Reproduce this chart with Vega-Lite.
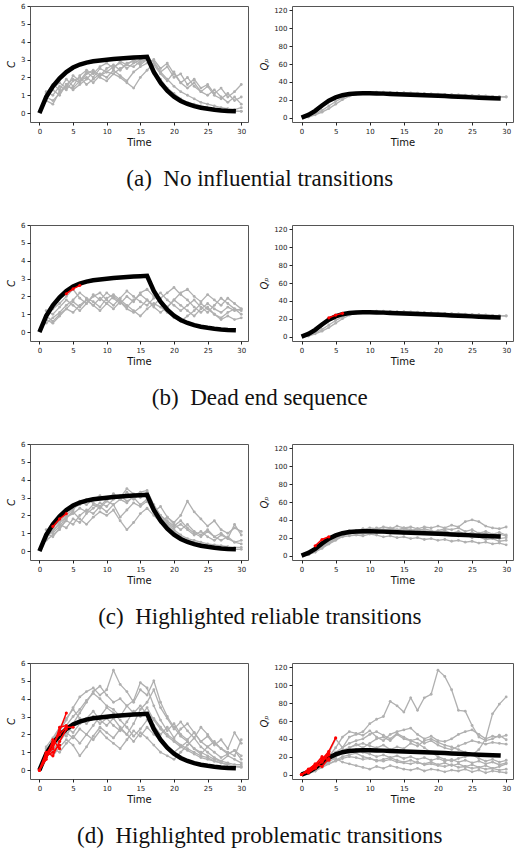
{
"$schema": "https://vega.github.io/schema/vega-lite/v6.json",
"padding": {"top": 1, "left": 6, "right": 0, "bottom": 0},
"background": "white",
"datasets": {
"M": [{"t":0,"C":0,"Q":0},{"t":1,"C":0.9,"Q":3},{"t":2,"C":1.5,"Q":7.5},{"t":3,"C":1.95,"Q":13.5},{"t":4,"C":2.3,"Q":19},{"t":5,"C":2.55,"Q":22.5},{"t":6,"C":2.72,"Q":25},{"t":7,"C":2.83,"Q":26.3},{"t":8,"C":2.9,"Q":27},{"t":9,"C":2.95,"Q":27.2},{"t":10,"C":2.99,"Q":27.2},{"t":11,"C":3.03,"Q":27},{"t":12,"C":3.06,"Q":26.8},{"t":13,"C":3.09,"Q":26.5},{"t":14,"C":3.11,"Q":26.2},{"t":15,"C":3.13,"Q":25.9},{"t":16,"C":3.15,"Q":25.6},{"t":17,"C":2.3,"Q":25.3},{"t":18,"C":1.7,"Q":25},{"t":19,"C":1.25,"Q":24.6},{"t":20,"C":0.92,"Q":24.3},{"t":21,"C":0.68,"Q":24},{"t":22,"C":0.51,"Q":23.6},{"t":23,"C":0.39,"Q":23.3},{"t":24,"C":0.3,"Q":23},{"t":25,"C":0.24,"Q":22.6},{"t":26,"C":0.19,"Q":22.3},{"t":27,"C":0.15,"Q":22},{"t":28,"C":0.12,"Q":21.6},{"t":29.2,"C":0.1,"Q":21.2}],
"aC": [
{"s":1,"t":1,"y":0.7},{"s":1,"t":2,"y":0.5},{"s":1,"t":3,"y":1.2},{"s":1,"t":4,"y":1.5},{"s":1,"t":5,"y":1.4},{"s":1,"t":6,"y":1.8},{"s":1,"t":7,"y":2.0},{"s":1,"t":8,"y":1.7},{"s":1,"t":9,"y":2.1},{"s":1,"t":10,"y":2.3},{"s":1,"t":11,"y":2.2},{"s":1,"t":12,"y":2.5},{"s":1,"t":13,"y":2.7},{"s":1,"t":14,"y":2.6},{"s":1,"t":15,"y":2.9},{"s":1,"t":16,"y":3.0},{"s":1,"t":17,"y":2.4},{"s":1,"t":18,"y":1.9},{"s":1,"t":19,"y":1.4},{"s":1,"t":20,"y":1.1},{"s":1,"t":21,"y":0.8},{"s":1,"t":22,"y":0.6},{"s":1,"t":23,"y":0.5},{"s":1,"t":24,"y":0.4},{"s":1,"t":25,"y":0.3},{"s":1,"t":26,"y":0.25},{"s":1,"t":27,"y":0.2},{"s":1,"t":28,"y":0.15},{"s":1,"t":29,"y":0.12},{"s":1,"t":30,"y":0.1},
{"s":2,"t":1,"y":1.0},{"s":2,"t":2,"y":1.3},{"s":2,"t":3,"y":1.0},{"s":2,"t":4,"y":1.6},{"s":2,"t":5,"y":1.9},{"s":2,"t":6,"y":1.7},{"s":2,"t":7,"y":2.2},{"s":2,"t":8,"y":2.4},{"s":2,"t":9,"y":2.1},{"s":2,"t":10,"y":2.5},{"s":2,"t":11,"y":2.7},{"s":2,"t":12,"y":2.4},{"s":2,"t":13,"y":2.8},{"s":2,"t":14,"y":2.9},{"s":2,"t":15,"y":2.7},{"s":2,"t":16,"y":3.0},{"s":2,"t":17,"y":2.9},{"s":2,"t":18,"y":2.3},{"s":2,"t":19,"y":2.6},{"s":2,"t":20,"y":2.0},{"s":2,"t":21,"y":2.2},{"s":2,"t":22,"y":1.6},{"s":2,"t":23,"y":1.9},{"s":2,"t":24,"y":1.4},{"s":2,"t":25,"y":1.6},{"s":2,"t":26,"y":1.1},{"s":2,"t":27,"y":1.4},{"s":2,"t":28,"y":0.9},{"s":2,"t":29,"y":1.2},{"s":2,"t":30,"y":1.6},
{"s":3,"t":1,"y":1.2},{"s":3,"t":2,"y":1.0},{"s":3,"t":3,"y":1.5},{"s":3,"t":4,"y":1.3},{"s":3,"t":5,"y":1.8},{"s":3,"t":6,"y":2.0},{"s":3,"t":7,"y":1.6},{"s":3,"t":8,"y":1.9},{"s":3,"t":9,"y":2.2},{"s":3,"t":10,"y":2.0},{"s":3,"t":11,"y":2.4},{"s":3,"t":12,"y":2.1},{"s":3,"t":13,"y":1.8},{"s":3,"t":14,"y":2.3},{"s":3,"t":15,"y":2.6},{"s":3,"t":16,"y":2.8},{"s":3,"t":17,"y":3.0},{"s":3,"t":18,"y":2.5},{"s":3,"t":19,"y":2.8},{"s":3,"t":20,"y":2.2},{"s":3,"t":21,"y":1.7},{"s":3,"t":22,"y":2.0},{"s":3,"t":23,"y":1.5},{"s":3,"t":24,"y":1.2},{"s":3,"t":25,"y":1.5},{"s":3,"t":26,"y":1.0},{"s":3,"t":27,"y":0.8},{"s":3,"t":28,"y":1.1},{"s":3,"t":29,"y":0.7},{"s":3,"t":30,"y":0.9},
{"s":4,"t":1,"y":0.8},{"s":4,"t":2,"y":1.4},{"s":4,"t":3,"y":1.7},{"s":4,"t":4,"y":1.4},{"s":4,"t":5,"y":2.1},{"s":4,"t":6,"y":1.8},{"s":4,"t":7,"y":2.3},{"s":4,"t":8,"y":2.0},{"s":4,"t":9,"y":2.5},{"s":4,"t":10,"y":2.3},{"s":4,"t":11,"y":2.6},{"s":4,"t":12,"y":2.8},{"s":4,"t":13,"y":2.5},{"s":4,"t":14,"y":2.8},{"s":4,"t":15,"y":3.0},{"s":4,"t":16,"y":3.1},{"s":4,"t":17,"y":2.2},{"s":4,"t":18,"y":1.6},{"s":4,"t":19,"y":1.2},{"s":4,"t":20,"y":0.9},{"s":4,"t":21,"y":0.7},{"s":4,"t":22,"y":0.5},{"s":4,"t":23,"y":0.4},{"s":4,"t":24,"y":0.35},{"s":4,"t":25,"y":0.3},{"s":4,"t":26,"y":0.2},{"s":4,"t":27,"y":0.2},{"s":4,"t":28,"y":0.15},{"s":4,"t":29,"y":0.1},{"s":4,"t":30,"y":0.1},
{"s":5,"t":1,"y":1.1},{"s":5,"t":2,"y":1.6},{"s":5,"t":3,"y":1.3},{"s":5,"t":4,"y":1.9},{"s":5,"t":5,"y":1.5},{"s":5,"t":6,"y":2.1},{"s":5,"t":7,"y":2.4},{"s":5,"t":8,"y":2.2},{"s":5,"t":9,"y":2.6},{"s":5,"t":10,"y":2.8},{"s":5,"t":11,"y":2.5},{"s":5,"t":12,"y":2.9},{"s":5,"t":13,"y":2.7},{"s":5,"t":14,"y":3.0},{"s":5,"t":15,"y":2.8},{"s":5,"t":16,"y":3.0},{"s":5,"t":17,"y":2.7},{"s":5,"t":18,"y":2.2},{"s":5,"t":19,"y":1.8},{"s":5,"t":20,"y":2.3},{"s":5,"t":21,"y":1.7},{"s":5,"t":22,"y":1.4},{"s":5,"t":23,"y":1.7},{"s":5,"t":24,"y":1.2},{"s":5,"t":25,"y":1.0},{"s":5,"t":26,"y":1.3},{"s":5,"t":27,"y":0.9},{"s":5,"t":28,"y":0.6},{"s":5,"t":29,"y":0.9},{"s":5,"t":30,"y":0.5},
{"s":6,"t":1,"y":0.9},{"s":6,"t":2,"y":0.7},{"s":6,"t":3,"y":1.1},{"s":6,"t":4,"y":1.6},{"s":6,"t":5,"y":1.3},{"s":6,"t":6,"y":1.6},{"s":6,"t":7,"y":1.9},{"s":6,"t":8,"y":2.3},{"s":6,"t":9,"y":2.0},{"s":6,"t":10,"y":1.8},{"s":6,"t":11,"y":2.2},{"s":6,"t":12,"y":2.0},{"s":6,"t":13,"y":1.7},{"s":6,"t":14,"y":1.4},{"s":6,"t":15,"y":2.0},{"s":6,"t":16,"y":2.4},{"s":6,"t":17,"y":2.8},{"s":6,"t":18,"y":2.3},{"s":6,"t":19,"y":1.9},{"s":6,"t":20,"y":1.5},{"s":6,"t":21,"y":1.2},{"s":6,"t":22,"y":1.0},{"s":6,"t":23,"y":0.8},{"s":6,"t":24,"y":0.6},{"s":6,"t":25,"y":0.5},{"s":6,"t":26,"y":0.4},{"s":6,"t":27,"y":0.3},{"s":6,"t":28,"y":0.25},{"s":6,"t":29,"y":0.2},{"s":6,"t":30,"y":0.3}
],
"aQ": [
{"s":1,"t":1,"y":1},{"s":1,"t":2,"y":4},{"s":1,"t":3,"y":8},{"s":1,"t":4,"y":13},{"s":1,"t":5,"y":18},{"s":1,"t":6,"y":22},{"s":1,"t":7,"y":25},{"s":1,"t":8,"y":26.5},{"s":1,"t":9,"y":27.5},{"s":1,"t":10,"y":28},{"s":1,"t":11,"y":28.3},{"s":1,"t":12,"y":28.3},{"s":1,"t":13,"y":28.2},{"s":1,"t":14,"y":28},{"s":1,"t":15,"y":27.8},{"s":1,"t":16,"y":27.5},{"s":1,"t":17,"y":27.2},{"s":1,"t":18,"y":26.9},{"s":1,"t":19,"y":26.6},{"s":1,"t":20,"y":26.3},{"s":1,"t":21,"y":26},{"s":1,"t":22,"y":25.7},{"s":1,"t":23,"y":25.4},{"s":1,"t":24,"y":25.1},{"s":1,"t":25,"y":24.8},{"s":1,"t":26,"y":24.5},{"s":1,"t":27,"y":24.2},{"s":1,"t":28,"y":23.8},{"s":1,"t":29,"y":23.5},{"s":1,"t":30,"y":23.2},
{"s":2,"t":1,"y":0.5},{"s":2,"t":2,"y":3},{"s":2,"t":3,"y":6},{"s":2,"t":4,"y":10},{"s":2,"t":5,"y":15},{"s":2,"t":6,"y":20},{"s":2,"t":7,"y":24},{"s":2,"t":8,"y":26},{"s":2,"t":9,"y":27},{"s":2,"t":10,"y":27.5},{"s":2,"t":11,"y":27.8},{"s":2,"t":12,"y":27.8},{"s":2,"t":13,"y":27.7},{"s":2,"t":14,"y":27.5},{"s":2,"t":15,"y":27.3},{"s":2,"t":16,"y":27},{"s":2,"t":17,"y":26.8},{"s":2,"t":18,"y":26.5},{"s":2,"t":19,"y":26.2},{"s":2,"t":20,"y":25.9},{"s":2,"t":21,"y":25.6},{"s":2,"t":22,"y":25.3},{"s":2,"t":23,"y":25},{"s":2,"t":24,"y":24.7},{"s":2,"t":25,"y":24.4},{"s":2,"t":26,"y":24.1},{"s":2,"t":27,"y":23.8},{"s":2,"t":28,"y":23.5},{"s":2,"t":29,"y":23.2},{"s":2,"t":30,"y":23}
],
"bC": [
{"s":1,"t":1,"y":0.7},{"s":1,"t":2,"y":0.5},{"s":1,"t":3,"y":0.9},{"s":1,"t":4,"y":1.3},{"s":1,"t":5,"y":1.1},{"s":1,"t":6,"y":1.5},{"s":1,"t":7,"y":1.8},{"s":1,"t":8,"y":1.5},{"s":1,"t":9,"y":1.9},{"s":1,"t":10,"y":1.6},{"s":1,"t":11,"y":2.0},{"s":1,"t":12,"y":1.7},{"s":1,"t":13,"y":1.3},{"s":1,"t":14,"y":1.1},{"s":1,"t":15,"y":1.4},{"s":1,"t":16,"y":1.8},{"s":1,"t":17,"y":1.5},{"s":1,"t":18,"y":1.9},{"s":1,"t":19,"y":2.2},{"s":1,"t":20,"y":2.5},{"s":1,"t":21,"y":2.1},{"s":1,"t":22,"y":1.8},{"s":1,"t":23,"y":1.4},{"s":1,"t":24,"y":1.1},{"s":1,"t":25,"y":1.4},{"s":1,"t":26,"y":1.0},{"s":1,"t":27,"y":0.8},{"s":1,"t":28,"y":1.1},{"s":1,"t":29,"y":1.3},{"s":1,"t":30,"y":1.2},
{"s":2,"t":1,"y":1.0},{"s":2,"t":2,"y":1.3},{"s":2,"t":3,"y":1.6},{"s":2,"t":4,"y":2.0},{"s":2,"t":5,"y":2.4},{"s":2,"t":6,"y":1.9},{"s":2,"t":7,"y":1.6},{"s":2,"t":8,"y":2.1},{"s":2,"t":9,"y":1.8},{"s":2,"t":10,"y":2.2},{"s":2,"t":11,"y":1.9},{"s":2,"t":12,"y":1.6},{"s":2,"t":13,"y":2.0},{"s":2,"t":14,"y":1.7},{"s":2,"t":15,"y":2.2},{"s":2,"t":16,"y":2.4},{"s":2,"t":17,"y":2.0},{"s":2,"t":18,"y":1.7},{"s":2,"t":19,"y":1.4},{"s":2,"t":20,"y":1.8},{"s":2,"t":21,"y":2.2},{"s":2,"t":22,"y":2.4},{"s":2,"t":23,"y":2.0},{"s":2,"t":24,"y":1.7},{"s":2,"t":25,"y":2.1},{"s":2,"t":26,"y":1.8},{"s":2,"t":27,"y":1.5},{"s":2,"t":28,"y":1.9},{"s":2,"t":29,"y":1.6},{"s":2,"t":30,"y":1.3},
{"s":3,"t":1,"y":0.5},{"s":3,"t":2,"y":0.8},{"s":3,"t":3,"y":1.1},{"s":3,"t":4,"y":1.5},{"s":3,"t":5,"y":1.8},{"s":3,"t":6,"y":2.2},{"s":3,"t":7,"y":1.9},{"s":3,"t":8,"y":1.7},{"s":3,"t":9,"y":1.4},{"s":3,"t":10,"y":1.9},{"s":3,"t":11,"y":2.1},{"s":3,"t":12,"y":1.8},{"s":3,"t":13,"y":1.5},{"s":3,"t":14,"y":1.2},{"s":3,"t":15,"y":0.9},{"s":3,"t":16,"y":1.3},{"s":3,"t":17,"y":1.6},{"s":3,"t":18,"y":1.4},{"s":3,"t":19,"y":1.1},{"s":3,"t":20,"y":0.8},{"s":3,"t":21,"y":0.6},{"s":3,"t":22,"y":0.9},{"s":3,"t":23,"y":1.2},{"s":3,"t":24,"y":1.6},{"s":3,"t":25,"y":1.3},{"s":3,"t":26,"y":1.0},{"s":3,"t":27,"y":0.7},{"s":3,"t":28,"y":0.9},{"s":3,"t":29,"y":0.7},{"s":3,"t":30,"y":0.8},
{"s":4,"t":1,"y":1.2},{"s":4,"t":2,"y":1.0},{"s":4,"t":3,"y":1.4},{"s":4,"t":4,"y":1.8},{"s":4,"t":5,"y":1.5},{"s":4,"t":6,"y":1.2},{"s":4,"t":7,"y":1.6},{"s":4,"t":8,"y":2.0},{"s":4,"t":9,"y":2.2},{"s":4,"t":10,"y":1.8},{"s":4,"t":11,"y":1.5},{"s":4,"t":12,"y":1.9},{"s":4,"t":13,"y":2.3},{"s":4,"t":14,"y":2.0},{"s":4,"t":15,"y":1.7},{"s":4,"t":16,"y":1.5},{"s":4,"t":17,"y":1.9},{"s":4,"t":18,"y":2.2},{"s":4,"t":19,"y":1.8},{"s":4,"t":20,"y":1.5},{"s":4,"t":21,"y":1.2},{"s":4,"t":22,"y":1.5},{"s":4,"t":23,"y":1.8},{"s":4,"t":24,"y":1.4},{"s":4,"t":25,"y":1.1},{"s":4,"t":26,"y":1.5},{"s":4,"t":27,"y":1.9},{"s":4,"t":28,"y":1.6},{"s":4,"t":29,"y":1.3},{"s":4,"t":30,"y":1.0},
{"s":5,"t":1,"y":0.9},{"s":5,"t":2,"y":0.6},{"s":5,"t":3,"y":1.0},{"s":5,"t":4,"y":1.3},{"s":5,"t":5,"y":1.7},{"s":5,"t":6,"y":1.4},{"s":5,"t":7,"y":1.8},{"s":5,"t":8,"y":1.5},{"s":5,"t":9,"y":1.2},{"s":5,"t":10,"y":1.6},{"s":5,"t":11,"y":1.3},{"s":5,"t":12,"y":1.7},{"s":5,"t":13,"y":1.4},{"s":5,"t":14,"y":1.8},{"s":5,"t":15,"y":2.1},{"s":5,"t":16,"y":1.8},{"s":5,"t":17,"y":1.4},{"s":5,"t":18,"y":1.1},{"s":5,"t":19,"y":1.4},{"s":5,"t":20,"y":1.8},{"s":5,"t":21,"y":1.5},{"s":5,"t":22,"y":1.2},{"s":5,"t":23,"y":0.9},{"s":5,"t":24,"y":1.3},{"s":5,"t":25,"y":1.6},{"s":5,"t":26,"y":1.3},{"s":5,"t":27,"y":1.1},{"s":5,"t":28,"y":1.4},{"s":5,"t":29,"y":1.2},{"s":5,"t":30,"y":1.3}
],
"cC": [
{"s":1,"t":1,"y":0.6},{"s":1,"t":2,"y":0.9},{"s":1,"t":3,"y":1.2},{"s":1,"t":4,"y":1.8},{"s":1,"t":5,"y":2.3},{"s":1,"t":6,"y":2.8},{"s":1,"t":7,"y":2.6},{"s":1,"t":8,"y":2.9},{"s":1,"t":9,"y":3.1},{"s":1,"t":10,"y":2.8},{"s":1,"t":11,"y":3.2},{"s":1,"t":12,"y":3.0},{"s":1,"t":13,"y":3.5},{"s":1,"t":14,"y":3.2},{"s":1,"t":15,"y":3.0},{"s":1,"t":16,"y":3.3},{"s":1,"t":17,"y":2.5},{"s":1,"t":18,"y":1.9},{"s":1,"t":19,"y":1.5},{"s":1,"t":20,"y":1.2},{"s":1,"t":21,"y":0.9},{"s":1,"t":22,"y":0.7},{"s":1,"t":23,"y":0.6},{"s":1,"t":24,"y":0.5},{"s":1,"t":25,"y":0.4},{"s":1,"t":26,"y":0.35},{"s":1,"t":27,"y":0.3},{"s":1,"t":28,"y":0.25},{"s":1,"t":29,"y":0.2},{"s":1,"t":30,"y":0.2},
{"s":2,"t":1,"y":0.8},{"s":2,"t":2,"y":1.1},{"s":2,"t":3,"y":1.6},{"s":2,"t":4,"y":1.9},{"s":2,"t":5,"y":2.1},{"s":2,"t":6,"y":2.4},{"s":2,"t":7,"y":2.2},{"s":2,"t":8,"y":2.6},{"s":2,"t":9,"y":2.4},{"s":2,"t":10,"y":2.8},{"s":2,"t":11,"y":2.6},{"s":2,"t":12,"y":2.9},{"s":2,"t":13,"y":2.7},{"s":2,"t":14,"y":3.1},{"s":2,"t":15,"y":3.3},{"s":2,"t":16,"y":3.4},{"s":2,"t":17,"y":2.6},{"s":2,"t":18,"y":2.0},{"s":2,"t":19,"y":1.6},{"s":2,"t":20,"y":1.3},{"s":2,"t":21,"y":1.5},{"s":2,"t":22,"y":1.2},{"s":2,"t":23,"y":0.9},{"s":2,"t":24,"y":1.1},{"s":2,"t":25,"y":0.8},{"s":2,"t":26,"y":0.6},{"s":2,"t":27,"y":0.9},{"s":2,"t":28,"y":0.7},{"s":2,"t":29,"y":0.5},{"s":2,"t":30,"y":0.6},
{"s":3,"t":1,"y":1.0},{"s":3,"t":2,"y":0.8},{"s":3,"t":3,"y":1.3},{"s":3,"t":4,"y":1.7},{"s":3,"t":5,"y":1.5},{"s":3,"t":6,"y":2.0},{"s":3,"t":7,"y":2.3},{"s":3,"t":8,"y":2.1},{"s":3,"t":9,"y":2.5},{"s":3,"t":10,"y":2.2},{"s":3,"t":11,"y":2.6},{"s":3,"t":12,"y":1.9},{"s":3,"t":13,"y":2.3},{"s":3,"t":14,"y":2.7},{"s":3,"t":15,"y":2.5},{"s":3,"t":16,"y":2.8},{"s":3,"t":17,"y":2.2},{"s":3,"t":18,"y":2.5},{"s":3,"t":19,"y":1.9},{"s":3,"t":20,"y":1.6},{"s":3,"t":21,"y":2.0},{"s":3,"t":22,"y":2.8},{"s":3,"t":23,"y":2.2},{"s":3,"t":24,"y":1.8},{"s":3,"t":25,"y":1.4},{"s":3,"t":26,"y":1.7},{"s":3,"t":27,"y":1.2},{"s":3,"t":28,"y":1.0},{"s":3,"t":29,"y":1.3},{"s":3,"t":30,"y":1.1},
{"s":4,"t":1,"y":0.7},{"s":4,"t":2,"y":1.2},{"s":4,"t":3,"y":1.5},{"s":4,"t":4,"y":1.3},{"s":4,"t":5,"y":1.8},{"s":4,"t":6,"y":1.6},{"s":4,"t":7,"y":2.1},{"s":4,"t":8,"y":2.4},{"s":4,"t":9,"y":2.7},{"s":4,"t":10,"y":2.5},{"s":4,"t":11,"y":2.9},{"s":4,"t":12,"y":3.1},{"s":4,"t":13,"y":2.8},{"s":4,"t":14,"y":3.0},{"s":4,"t":15,"y":2.6},{"s":4,"t":16,"y":2.9},{"s":4,"t":17,"y":2.3},{"s":4,"t":18,"y":1.8},{"s":4,"t":19,"y":1.4},{"s":4,"t":20,"y":1.1},{"s":4,"t":21,"y":0.8},{"s":4,"t":22,"y":0.6},{"s":4,"t":23,"y":0.5},{"s":4,"t":24,"y":0.4},{"s":4,"t":25,"y":0.3},{"s":4,"t":26,"y":0.25},{"s":4,"t":27,"y":0.2},{"s":4,"t":28,"y":0.15},{"s":4,"t":29,"y":0.1},{"s":4,"t":30,"y":0.1},
{"s":5,"t":1,"y":1.2},{"s":5,"t":2,"y":1.0},{"s":5,"t":3,"y":1.4},{"s":5,"t":4,"y":1.9},{"s":5,"t":5,"y":2.2},{"s":5,"t":6,"y":1.8},{"s":5,"t":7,"y":1.5},{"s":5,"t":8,"y":1.9},{"s":5,"t":9,"y":2.2},{"s":5,"t":10,"y":2.0},{"s":5,"t":11,"y":2.3},{"s":5,"t":12,"y":1.7},{"s":5,"t":13,"y":1.2},{"s":5,"t":14,"y":1.6},{"s":5,"t":15,"y":2.1},{"s":5,"t":16,"y":2.4},{"s":5,"t":17,"y":2.0},{"s":5,"t":18,"y":1.6},{"s":5,"t":19,"y":1.9},{"s":5,"t":20,"y":1.5},{"s":5,"t":21,"y":1.2},{"s":5,"t":22,"y":1.5},{"s":5,"t":23,"y":1.1},{"s":5,"t":24,"y":0.9},{"s":5,"t":25,"y":1.2},{"s":5,"t":26,"y":0.8},{"s":5,"t":27,"y":1.0},{"s":5,"t":28,"y":0.7},{"s":5,"t":29,"y":1.5},{"s":5,"t":30,"y":0.9},
{"s":6,"t":1,"y":0.9},{"s":6,"t":2,"y":1.3},{"s":6,"t":3,"y":1.7},{"s":6,"t":4,"y":2.0},{"s":6,"t":5,"y":2.4},{"s":6,"t":6,"y":2.6},{"s":6,"t":7,"y":2.9},{"s":6,"t":8,"y":2.7},{"s":6,"t":9,"y":2.5},{"s":6,"t":10,"y":2.9},{"s":6,"t":11,"y":3.2},{"s":6,"t":12,"y":2.9},{"s":6,"t":13,"y":3.3},{"s":6,"t":14,"y":2.9},{"s":6,"t":15,"y":3.2},{"s":6,"t":16,"y":3.0},{"s":6,"t":17,"y":2.4},{"s":6,"t":18,"y":2.0},{"s":6,"t":19,"y":1.7},{"s":6,"t":20,"y":1.4},{"s":6,"t":21,"y":1.7},{"s":6,"t":22,"y":1.3},{"s":6,"t":23,"y":1.0},{"s":6,"t":24,"y":0.8},{"s":6,"t":25,"y":1.1},{"s":6,"t":26,"y":0.8},{"s":6,"t":27,"y":0.6},{"s":6,"t":28,"y":0.8},{"s":6,"t":29,"y":0.5},{"s":6,"t":30,"y":0.4}
],
"cQ": [
{"s":1,"t":1,"y":2},{"s":1,"t":2,"y":6},{"s":1,"t":3,"y":11},{"s":1,"t":4,"y":16},{"s":1,"t":5,"y":21},{"s":1,"t":6,"y":25},{"s":1,"t":7,"y":27},{"s":1,"t":8,"y":28},{"s":1,"t":9,"y":29},{"s":1,"t":10,"y":31},{"s":1,"t":11,"y":30},{"s":1,"t":12,"y":32},{"s":1,"t":13,"y":31},{"s":1,"t":14,"y":29},{"s":1,"t":15,"y":30},{"s":1,"t":16,"y":28},{"s":1,"t":17,"y":30},{"s":1,"t":18,"y":32},{"s":1,"t":19,"y":31},{"s":1,"t":20,"y":33},{"s":1,"t":21,"y":31},{"s":1,"t":22,"y":34},{"s":1,"t":23,"y":32},{"s":1,"t":24,"y":38},{"s":1,"t":25,"y":40},{"s":1,"t":26,"y":38},{"s":1,"t":27,"y":33},{"s":1,"t":28,"y":31},{"s":1,"t":29,"y":30},{"s":1,"t":30,"y":32},
{"s":2,"t":1,"y":1},{"s":2,"t":2,"y":4},{"s":2,"t":3,"y":9},{"s":2,"t":4,"y":14},{"s":2,"t":5,"y":19},{"s":2,"t":6,"y":23},{"s":2,"t":7,"y":25},{"s":2,"t":8,"y":24},{"s":2,"t":9,"y":26},{"s":2,"t":10,"y":25},{"s":2,"t":11,"y":27},{"s":2,"t":12,"y":26},{"s":2,"t":13,"y":28},{"s":2,"t":14,"y":27},{"s":2,"t":15,"y":26},{"s":2,"t":16,"y":25},{"s":2,"t":17,"y":27},{"s":2,"t":18,"y":26},{"s":2,"t":19,"y":24},{"s":2,"t":20,"y":25},{"s":2,"t":21,"y":23},{"s":2,"t":22,"y":24},{"s":2,"t":23,"y":22},{"s":2,"t":24,"y":23},{"s":2,"t":25,"y":21},{"s":2,"t":26,"y":22},{"s":2,"t":27,"y":20},{"s":2,"t":28,"y":21},{"s":2,"t":29,"y":19},{"s":2,"t":30,"y":20},
{"s":3,"t":1,"y":2},{"s":3,"t":2,"y":5},{"s":3,"t":3,"y":10},{"s":3,"t":4,"y":15},{"s":3,"t":5,"y":20},{"s":3,"t":6,"y":26},{"s":3,"t":7,"y":28},{"s":3,"t":8,"y":27},{"s":3,"t":9,"y":30},{"s":3,"t":10,"y":28},{"s":3,"t":11,"y":31},{"s":3,"t":12,"y":29},{"s":3,"t":13,"y":30},{"s":3,"t":14,"y":28},{"s":3,"t":15,"y":31},{"s":3,"t":16,"y":29},{"s":3,"t":17,"y":27},{"s":3,"t":18,"y":30},{"s":3,"t":19,"y":28},{"s":3,"t":20,"y":26},{"s":3,"t":21,"y":28},{"s":3,"t":22,"y":25},{"s":3,"t":23,"y":27},{"s":3,"t":24,"y":24},{"s":3,"t":25,"y":26},{"s":3,"t":26,"y":23},{"s":3,"t":27,"y":25},{"s":3,"t":28,"y":22},{"s":3,"t":29,"y":24},{"s":3,"t":30,"y":22},
{"s":4,"t":1,"y":1},{"s":4,"t":2,"y":5},{"s":4,"t":3,"y":9},{"s":4,"t":4,"y":13},{"s":4,"t":5,"y":18},{"s":4,"t":6,"y":21},{"s":4,"t":7,"y":22},{"s":4,"t":8,"y":23},{"s":4,"t":9,"y":22},{"s":4,"t":10,"y":24},{"s":4,"t":11,"y":23},{"s":4,"t":12,"y":21},{"s":4,"t":13,"y":22},{"s":4,"t":14,"y":20},{"s":4,"t":15,"y":21},{"s":4,"t":16,"y":19},{"s":4,"t":17,"y":20},{"s":4,"t":18,"y":18},{"s":4,"t":19,"y":19},{"s":4,"t":20,"y":17},{"s":4,"t":21,"y":18},{"s":4,"t":22,"y":16},{"s":4,"t":23,"y":17},{"s":4,"t":24,"y":15},{"s":4,"t":25,"y":16},{"s":4,"t":26,"y":14},{"s":4,"t":27,"y":15},{"s":4,"t":28,"y":13},{"s":4,"t":29,"y":14},{"s":4,"t":30,"y":12},
{"s":5,"t":1,"y":2},{"s":5,"t":2,"y":6},{"s":5,"t":3,"y":10},{"s":5,"t":4,"y":14},{"s":5,"t":5,"y":19},{"s":5,"t":6,"y":24},{"s":5,"t":7,"y":26},{"s":5,"t":8,"y":25},{"s":5,"t":9,"y":24},{"s":5,"t":10,"y":26},{"s":5,"t":11,"y":28},{"s":5,"t":12,"y":27},{"s":5,"t":13,"y":25},{"s":5,"t":14,"y":26},{"s":5,"t":15,"y":24},{"s":5,"t":16,"y":26},{"s":5,"t":17,"y":25},{"s":5,"t":18,"y":27},{"s":5,"t":19,"y":26},{"s":5,"t":20,"y":28},{"s":5,"t":21,"y":30},{"s":5,"t":22,"y":29},{"s":5,"t":23,"y":31},{"s":5,"t":24,"y":27},{"s":5,"t":25,"y":29},{"s":5,"t":26,"y":25},{"s":5,"t":27,"y":27},{"s":5,"t":28,"y":24},{"s":5,"t":29,"y":26},{"s":5,"t":30,"y":23},
{"s":6,"t":1,"y":1},{"s":6,"t":2,"y":4},{"s":6,"t":3,"y":8},{"s":6,"t":4,"y":13},{"s":6,"t":5,"y":17},{"s":6,"t":6,"y":22},{"s":6,"t":7,"y":24},{"s":6,"t":8,"y":26},{"s":6,"t":9,"y":28},{"s":6,"t":10,"y":27},{"s":6,"t":11,"y":29},{"s":6,"t":12,"y":28},{"s":6,"t":13,"y":30},{"s":6,"t":14,"y":33},{"s":6,"t":15,"y":31},{"s":6,"t":16,"y":32},{"s":6,"t":17,"y":30},{"s":6,"t":18,"y":28},{"s":6,"t":19,"y":27},{"s":6,"t":20,"y":25},{"s":6,"t":21,"y":26},{"s":6,"t":22,"y":24},{"s":6,"t":23,"y":22},{"s":6,"t":24,"y":23},{"s":6,"t":25,"y":20},{"s":6,"t":26,"y":21},{"s":6,"t":27,"y":18},{"s":6,"t":28,"y":19},{"s":6,"t":29,"y":16},{"s":6,"t":30,"y":17}
],
"dC": [
{"s":1,"t":1,"y":0.9},{"s":1,"t":2,"y":1.4},{"s":1,"t":3,"y":2.2},{"s":1,"t":4,"y":2.8},{"s":1,"t":5,"y":3.5},{"s":1,"t":6,"y":4.1},{"s":1,"t":7,"y":4.4},{"s":1,"t":8,"y":4.6},{"s":1,"t":9,"y":4.2},{"s":1,"t":10,"y":4.5},{"s":1,"t":11,"y":5.6},{"s":1,"t":12,"y":4.8},{"s":1,"t":13,"y":4.4},{"s":1,"t":14,"y":3.8},{"s":1,"t":15,"y":4.5},{"s":1,"t":16,"y":4.2},{"s":1,"t":17,"y":5.0},{"s":1,"t":18,"y":3.8},{"s":1,"t":19,"y":3.0},{"s":1,"t":20,"y":2.4},{"s":1,"t":21,"y":1.9},{"s":1,"t":22,"y":1.6},{"s":1,"t":23,"y":1.2},{"s":1,"t":24,"y":1.0},{"s":1,"t":25,"y":0.8},{"s":1,"t":26,"y":0.6},{"s":1,"t":27,"y":0.5},{"s":1,"t":28,"y":0.4},{"s":1,"t":29,"y":0.3},{"s":1,"t":30,"y":0.3},
{"s":2,"t":1,"y":1.2},{"s":2,"t":2,"y":1.0},{"s":2,"t":3,"y":1.8},{"s":2,"t":4,"y":2.5},{"s":2,"t":5,"y":3.0},{"s":2,"t":6,"y":3.4},{"s":2,"t":7,"y":3.9},{"s":2,"t":8,"y":4.3},{"s":2,"t":9,"y":4.0},{"s":2,"t":10,"y":3.6},{"s":2,"t":11,"y":3.4},{"s":2,"t":12,"y":3.0},{"s":2,"t":13,"y":3.6},{"s":2,"t":14,"y":3.9},{"s":2,"t":15,"y":4.9},{"s":2,"t":16,"y":4.6},{"s":2,"t":17,"y":3.6},{"s":2,"t":18,"y":2.8},{"s":2,"t":19,"y":2.2},{"s":2,"t":20,"y":2.6},{"s":2,"t":21,"y":2.0},{"s":2,"t":22,"y":1.7},{"s":2,"t":23,"y":2.1},{"s":2,"t":24,"y":1.6},{"s":2,"t":25,"y":1.3},{"s":2,"t":26,"y":1.6},{"s":2,"t":27,"y":1.2},{"s":2,"t":28,"y":0.9},{"s":2,"t":29,"y":1.1},{"s":2,"t":30,"y":0.8},
{"s":3,"t":1,"y":0.8},{"s":3,"t":2,"y":1.5},{"s":3,"t":3,"y":1.9},{"s":3,"t":4,"y":2.4},{"s":3,"t":5,"y":2.1},{"s":3,"t":6,"y":2.6},{"s":3,"t":7,"y":2.9},{"s":3,"t":8,"y":3.3},{"s":3,"t":9,"y":2.8},{"s":3,"t":10,"y":2.5},{"s":3,"t":11,"y":2.9},{"s":3,"t":12,"y":2.4},{"s":3,"t":13,"y":2.0},{"s":3,"t":14,"y":2.6},{"s":3,"t":15,"y":3.4},{"s":3,"t":16,"y":3.8},{"s":3,"t":17,"y":4.5},{"s":3,"t":18,"y":3.5},{"s":3,"t":19,"y":2.9},{"s":3,"t":20,"y":2.3},{"s":3,"t":21,"y":2.7},{"s":3,"t":22,"y":2.2},{"s":3,"t":23,"y":1.8},{"s":3,"t":24,"y":2.4},{"s":3,"t":25,"y":2.0},{"s":3,"t":26,"y":1.5},{"s":3,"t":27,"y":1.2},{"s":3,"t":28,"y":1.0},{"s":3,"t":29,"y":0.8},{"s":3,"t":30,"y":1.7},
{"s":4,"t":1,"y":1.0},{"s":4,"t":2,"y":0.8},{"s":4,"t":3,"y":1.3},{"s":4,"t":4,"y":1.7},{"s":4,"t":5,"y":1.4},{"s":4,"t":6,"y":0.8},{"s":4,"t":7,"y":1.3},{"s":4,"t":8,"y":1.9},{"s":4,"t":9,"y":2.4},{"s":4,"t":10,"y":2.1},{"s":4,"t":11,"y":1.8},{"s":4,"t":12,"y":2.3},{"s":4,"t":13,"y":2.0},{"s":4,"t":14,"y":1.6},{"s":4,"t":15,"y":2.1},{"s":4,"t":16,"y":1.8},{"s":4,"t":17,"y":1.4},{"s":4,"t":18,"y":1.0},{"s":4,"t":19,"y":0.8},{"s":4,"t":20,"y":0.6},{"s":4,"t":21,"y":1.0},{"s":4,"t":22,"y":1.4},{"s":4,"t":23,"y":1.8},{"s":4,"t":24,"y":1.3},{"s":4,"t":25,"y":1.0},{"s":4,"t":26,"y":0.7},{"s":4,"t":27,"y":0.5},{"s":4,"t":28,"y":0.8},{"s":4,"t":29,"y":0.6},{"s":4,"t":30,"y":0.4},
{"s":5,"t":1,"y":1.3},{"s":5,"t":2,"y":1.8},{"s":5,"t":3,"y":2.4},{"s":5,"t":4,"y":2.9},{"s":5,"t":5,"y":3.4},{"s":5,"t":6,"y":2.9},{"s":5,"t":7,"y":2.6},{"s":5,"t":8,"y":3.0},{"s":5,"t":9,"y":2.6},{"s":5,"t":10,"y":2.9},{"s":5,"t":11,"y":2.5},{"s":5,"t":12,"y":2.2},{"s":5,"t":13,"y":2.7},{"s":5,"t":14,"y":3.3},{"s":5,"t":15,"y":3.0},{"s":5,"t":16,"y":3.5},{"s":5,"t":17,"y":2.8},{"s":5,"t":18,"y":2.3},{"s":5,"t":19,"y":1.9},{"s":5,"t":20,"y":1.6},{"s":5,"t":21,"y":1.3},{"s":5,"t":22,"y":1.1},{"s":5,"t":23,"y":0.9},{"s":5,"t":24,"y":0.7},{"s":5,"t":25,"y":0.6},{"s":5,"t":26,"y":0.5},{"s":5,"t":27,"y":0.4},{"s":5,"t":28,"y":0.3},{"s":5,"t":29,"y":0.2},{"s":5,"t":30,"y":0.2},
{"s":6,"t":1,"y":0.7},{"s":6,"t":2,"y":1.1},{"s":6,"t":3,"y":1.6},{"s":6,"t":4,"y":2.1},{"s":6,"t":5,"y":1.8},{"s":6,"t":6,"y":2.3},{"s":6,"t":7,"y":2.0},{"s":6,"t":8,"y":2.5},{"s":6,"t":9,"y":3.0},{"s":6,"t":10,"y":3.5},{"s":6,"t":11,"y":3.2},{"s":6,"t":12,"y":2.8},{"s":6,"t":13,"y":2.4},{"s":6,"t":14,"y":1.9},{"s":6,"t":15,"y":2.3},{"s":6,"t":16,"y":2.8},{"s":6,"t":17,"y":2.5},{"s":6,"t":18,"y":2.0},{"s":6,"t":19,"y":2.4},{"s":6,"t":20,"y":1.8},{"s":6,"t":21,"y":2.3},{"s":6,"t":22,"y":2.6},{"s":6,"t":23,"y":2.1},{"s":6,"t":24,"y":1.6},{"s":6,"t":25,"y":1.9},{"s":6,"t":26,"y":1.4},{"s":6,"t":27,"y":1.7},{"s":6,"t":28,"y":1.2},{"s":6,"t":29,"y":2.1},{"s":6,"t":30,"y":1.5},
{"s":7,"t":1,"y":1.1},{"s":7,"t":2,"y":1.7},{"s":7,"t":3,"y":2.3},{"s":7,"t":4,"y":1.9},{"s":7,"t":5,"y":2.6},{"s":7,"t":6,"y":3.2},{"s":7,"t":7,"y":3.8},{"s":7,"t":8,"y":4.4},{"s":7,"t":9,"y":4.7},{"s":7,"t":10,"y":4.2},{"s":7,"t":11,"y":3.8},{"s":7,"t":12,"y":4.0},{"s":7,"t":13,"y":3.6},{"s":7,"t":14,"y":3.2},{"s":7,"t":15,"y":3.6},{"s":7,"t":16,"y":3.1},{"s":7,"t":17,"y":2.9},{"s":7,"t":18,"y":2.4},{"s":7,"t":19,"y":2.0},{"s":7,"t":20,"y":1.7},{"s":7,"t":21,"y":1.4},{"s":7,"t":22,"y":1.2},{"s":7,"t":23,"y":1.0},{"s":7,"t":24,"y":0.8},{"s":7,"t":25,"y":0.7},{"s":7,"t":26,"y":0.5},{"s":7,"t":27,"y":0.4},{"s":7,"t":28,"y":0.3},{"s":7,"t":29,"y":0.2},{"s":7,"t":30,"y":0.15},
{"s":8,"t":1,"y":0.9},{"s":8,"t":2,"y":1.2},{"s":8,"t":3,"y":1.0},{"s":8,"t":4,"y":1.5},{"s":8,"t":5,"y":1.9},{"s":8,"t":6,"y":1.5},{"s":8,"t":7,"y":2.0},{"s":8,"t":8,"y":1.7},{"s":8,"t":9,"y":2.2},{"s":8,"t":10,"y":1.8},{"s":8,"t":11,"y":1.5},{"s":8,"t":12,"y":1.2},{"s":8,"t":13,"y":1.7},{"s":8,"t":14,"y":2.2},{"s":8,"t":15,"y":1.9},{"s":8,"t":16,"y":2.4},{"s":8,"t":17,"y":2.0},{"s":8,"t":18,"y":1.7},{"s":8,"t":19,"y":1.3},{"s":8,"t":20,"y":1.0},{"s":8,"t":21,"y":1.3},{"s":8,"t":22,"y":1.6},{"s":8,"t":23,"y":1.2},{"s":8,"t":24,"y":0.9},{"s":8,"t":25,"y":1.3},{"s":8,"t":26,"y":1.0},{"s":8,"t":27,"y":0.7},{"s":8,"t":28,"y":0.9},{"s":8,"t":29,"y":1.1},{"s":8,"t":30,"y":0.6}
],
"dQ": [
{"s":1,"t":1,"y":3},{"s":1,"t":2,"y":8},{"s":1,"t":3,"y":15},{"s":1,"t":4,"y":24},{"s":1,"t":5,"y":40},{"s":1,"t":6,"y":30},{"s":1,"t":7,"y":42},{"s":1,"t":8,"y":45},{"s":1,"t":9,"y":48},{"s":1,"t":10,"y":57},{"s":1,"t":11,"y":62},{"s":1,"t":12,"y":65},{"s":1,"t":13,"y":82},{"s":1,"t":14,"y":77},{"s":1,"t":15,"y":70},{"s":1,"t":16,"y":86},{"s":1,"t":17,"y":72},{"s":1,"t":18,"y":86},{"s":1,"t":19,"y":90},{"s":1,"t":20,"y":117},{"s":1,"t":21,"y":110},{"s":1,"t":22,"y":95},{"s":1,"t":23,"y":72},{"s":1,"t":24,"y":71},{"s":1,"t":25,"y":55},{"s":1,"t":26,"y":42},{"s":1,"t":27,"y":38},{"s":1,"t":28,"y":40},{"s":1,"t":29,"y":44},{"s":1,"t":30,"y":39},
{"s":2,"t":1,"y":2},{"s":2,"t":2,"y":6},{"s":2,"t":3,"y":12},{"s":2,"t":4,"y":20},{"s":2,"t":5,"y":30},{"s":2,"t":6,"y":42},{"s":2,"t":7,"y":48},{"s":2,"t":8,"y":46},{"s":2,"t":9,"y":44},{"s":2,"t":10,"y":49},{"s":2,"t":11,"y":42},{"s":2,"t":12,"y":38},{"s":2,"t":13,"y":45},{"s":2,"t":14,"y":48},{"s":2,"t":15,"y":50},{"s":2,"t":16,"y":52},{"s":2,"t":17,"y":45},{"s":2,"t":18,"y":40},{"s":2,"t":19,"y":43},{"s":2,"t":20,"y":38},{"s":2,"t":21,"y":37},{"s":2,"t":22,"y":40},{"s":2,"t":23,"y":45},{"s":2,"t":24,"y":48},{"s":2,"t":25,"y":50},{"s":2,"t":26,"y":45},{"s":2,"t":27,"y":40},{"s":2,"t":28,"y":43},{"s":2,"t":29,"y":42},{"s":2,"t":30,"y":44},
{"s":3,"t":1,"y":2},{"s":3,"t":2,"y":5},{"s":3,"t":3,"y":10},{"s":3,"t":4,"y":16},{"s":3,"t":5,"y":22},{"s":3,"t":6,"y":26},{"s":3,"t":7,"y":30},{"s":3,"t":8,"y":34},{"s":3,"t":9,"y":30},{"s":3,"t":10,"y":35},{"s":3,"t":11,"y":40},{"s":3,"t":12,"y":42},{"s":3,"t":13,"y":38},{"s":3,"t":14,"y":45},{"s":3,"t":15,"y":40},{"s":3,"t":16,"y":38},{"s":3,"t":17,"y":35},{"s":3,"t":18,"y":30},{"s":3,"t":19,"y":25},{"s":3,"t":20,"y":20},{"s":3,"t":21,"y":17},{"s":3,"t":22,"y":15},{"s":3,"t":23,"y":18},{"s":3,"t":24,"y":20},{"s":3,"t":25,"y":22},{"s":3,"t":26,"y":28},{"s":3,"t":27,"y":40},{"s":3,"t":28,"y":68},{"s":3,"t":29,"y":79},{"s":3,"t":30,"y":87},
{"s":4,"t":1,"y":3},{"s":4,"t":2,"y":7},{"s":4,"t":3,"y":13},{"s":4,"t":4,"y":18},{"s":4,"t":5,"y":25},{"s":4,"t":6,"y":30},{"s":4,"t":7,"y":35},{"s":4,"t":8,"y":38},{"s":4,"t":9,"y":40},{"s":4,"t":10,"y":45},{"s":4,"t":11,"y":48},{"s":4,"t":12,"y":44},{"s":4,"t":13,"y":40},{"s":4,"t":14,"y":46},{"s":4,"t":15,"y":42},{"s":4,"t":16,"y":38},{"s":4,"t":17,"y":40},{"s":4,"t":18,"y":35},{"s":4,"t":19,"y":38},{"s":4,"t":20,"y":33},{"s":4,"t":21,"y":30},{"s":4,"t":22,"y":28},{"s":4,"t":23,"y":32},{"s":4,"t":24,"y":35},{"s":4,"t":25,"y":38},{"s":4,"t":26,"y":36},{"s":4,"t":27,"y":34},{"s":4,"t":28,"y":36},{"s":4,"t":29,"y":35},{"s":4,"t":30,"y":34},
{"s":5,"t":1,"y":2},{"s":5,"t":2,"y":5},{"s":5,"t":3,"y":9},{"s":5,"t":4,"y":12},{"s":5,"t":5,"y":15},{"s":5,"t":6,"y":18},{"s":5,"t":7,"y":20},{"s":5,"t":8,"y":19},{"s":5,"t":9,"y":17},{"s":5,"t":10,"y":18},{"s":5,"t":11,"y":16},{"s":5,"t":12,"y":15},{"s":5,"t":13,"y":17},{"s":5,"t":14,"y":14},{"s":5,"t":15,"y":13},{"s":5,"t":16,"y":12},{"s":5,"t":17,"y":14},{"s":5,"t":18,"y":11},{"s":5,"t":19,"y":12},{"s":5,"t":20,"y":10},{"s":5,"t":21,"y":9},{"s":5,"t":22,"y":11},{"s":5,"t":23,"y":8},{"s":5,"t":24,"y":9},{"s":5,"t":25,"y":7},{"s":5,"t":26,"y":8},{"s":5,"t":27,"y":6},{"s":5,"t":28,"y":7},{"s":5,"t":29,"y":5},{"s":5,"t":30,"y":6},
{"s":6,"t":1,"y":1},{"s":6,"t":2,"y":4},{"s":6,"t":3,"y":8},{"s":6,"t":4,"y":12},{"s":6,"t":5,"y":16},{"s":6,"t":6,"y":20},{"s":6,"t":7,"y":22},{"s":6,"t":8,"y":24},{"s":6,"t":9,"y":20},{"s":6,"t":10,"y":18},{"s":6,"t":11,"y":15},{"s":6,"t":12,"y":17},{"s":6,"t":13,"y":19},{"s":6,"t":14,"y":16},{"s":6,"t":15,"y":14},{"s":6,"t":16,"y":16},{"s":6,"t":17,"y":13},{"s":6,"t":18,"y":12},{"s":6,"t":19,"y":14},{"s":6,"t":20,"y":11},{"s":6,"t":21,"y":13},{"s":6,"t":22,"y":10},{"s":6,"t":23,"y":12},{"s":6,"t":24,"y":9},{"s":6,"t":25,"y":11},{"s":6,"t":26,"y":8},{"s":6,"t":27,"y":10},{"s":6,"t":28,"y":7},{"s":6,"t":29,"y":9},{"s":6,"t":30,"y":12},
{"s":7,"t":1,"y":2},{"s":7,"t":2,"y":6},{"s":7,"t":3,"y":11},{"s":7,"t":4,"y":15},{"s":7,"t":5,"y":18},{"s":7,"t":6,"y":14},{"s":7,"t":7,"y":12},{"s":7,"t":8,"y":10},{"s":7,"t":9,"y":8},{"s":7,"t":10,"y":6},{"s":7,"t":11,"y":9},{"s":7,"t":12,"y":7},{"s":7,"t":13,"y":10},{"s":7,"t":14,"y":8},{"s":7,"t":15,"y":6},{"s":7,"t":16,"y":5},{"s":7,"t":17,"y":7},{"s":7,"t":18,"y":4},{"s":7,"t":19,"y":6},{"s":7,"t":20,"y":5},{"s":7,"t":21,"y":3},{"s":7,"t":22,"y":5},{"s":7,"t":23,"y":4},{"s":7,"t":24,"y":6},{"s":7,"t":25,"y":3},{"s":7,"t":26,"y":5},{"s":7,"t":27,"y":2},{"s":7,"t":28,"y":4},{"s":7,"t":29,"y":3},{"s":7,"t":30,"y":2},
{"s":8,"t":1,"y":3},{"s":8,"t":2,"y":7},{"s":8,"t":3,"y":12},{"s":8,"t":4,"y":17},{"s":8,"t":5,"y":22},{"s":8,"t":6,"y":27},{"s":8,"t":7,"y":30},{"s":8,"t":8,"y":33},{"s":8,"t":9,"y":35},{"s":8,"t":10,"y":32},{"s":8,"t":11,"y":30},{"s":8,"t":12,"y":33},{"s":8,"t":13,"y":28},{"s":8,"t":14,"y":31},{"s":8,"t":15,"y":29},{"s":8,"t":16,"y":35},{"s":8,"t":17,"y":32},{"s":8,"t":18,"y":38},{"s":8,"t":19,"y":40},{"s":8,"t":20,"y":36},{"s":8,"t":21,"y":33},{"s":8,"t":22,"y":31},{"s":8,"t":23,"y":28},{"s":8,"t":24,"y":25},{"s":8,"t":25,"y":22},{"s":8,"t":26,"y":18},{"s":8,"t":27,"y":15},{"s":8,"t":28,"y":17},{"s":8,"t":29,"y":14},{"s":8,"t":30,"y":16},
{"s":9,"t":1,"y":1},{"s":9,"t":2,"y":4},{"s":9,"t":3,"y":9},{"s":9,"t":4,"y":14},{"s":9,"t":5,"y":20},{"s":9,"t":6,"y":24},{"s":9,"t":7,"y":26},{"s":9,"t":8,"y":28},{"s":9,"t":9,"y":25},{"s":9,"t":10,"y":23},{"s":9,"t":11,"y":20},{"s":9,"t":12,"y":22},{"s":9,"t":13,"y":19},{"s":9,"t":14,"y":21},{"s":9,"t":15,"y":18},{"s":9,"t":16,"y":20},{"s":9,"t":17,"y":17},{"s":9,"t":18,"y":19},{"s":9,"t":19,"y":16},{"s":9,"t":20,"y":18},{"s":9,"t":21,"y":15},{"s":9,"t":22,"y":17},{"s":9,"t":23,"y":14},{"s":9,"t":24,"y":16},{"s":9,"t":25,"y":13},{"s":9,"t":26,"y":15},{"s":9,"t":27,"y":12},{"s":9,"t":28,"y":14},{"s":9,"t":29,"y":11},{"s":9,"t":30,"y":13}
],
"bCr": [{"s":1,"t":4,"y":2.15},{"s":1,"t":5,"y":2.42},{"s":1,"t":6,"y":2.62}],
"bQr": [{"s":1,"t":4,"y":21},{"s":1,"t":5,"y":24},{"s":1,"t":6,"y":26}],
"cCr": [{"s":1,"t":2,"y":1.38},{"s":1,"t":3,"y":1.8},{"s":1,"t":4,"y":2.1}],
"cQr": [{"s":1,"t":2,"y":11},{"s":1,"t":3,"y":18},{"s":1,"t":4,"y":21}],
"dCr": [
{"s":1,"t":0,"y":0},{"s":1,"t":1,"y":0.7},{"s":1,"t":2,"y":1.3},{"s":1,"t":3,"y":2.2},{"s":1,"t":4,"y":3.2},
{"s":2,"t":0,"y":0},{"s":2,"t":1,"y":0.9},{"s":2,"t":2,"y":1.5},{"s":2,"t":3,"y":2.0},{"s":2,"t":4,"y":2.4},{"s":2,"t":5,"y":2.4},
{"s":3,"t":0,"y":0},{"s":3,"t":1,"y":1.0},{"s":3,"t":2,"y":0.8},{"s":3,"t":3,"y":1.6},{"s":3,"t":4,"y":2.3},
{"s":4,"t":0,"y":0},{"s":4,"t":1,"y":0.6},{"s":4,"t":2,"y":1.7},{"s":4,"t":3,"y":1.2},
{"s":5,"t":1,"y":0.9},{"s":5,"t":2,"y":1.2},{"s":5,"t":3,"y":2.4},{"s":5,"t":4,"y":2.5},
{"s":6,"t":0,"y":0},{"s":6,"t":1,"y":0.8},{"s":6,"t":2,"y":1.0},{"s":6,"t":3,"y":1.4}
],
"dQr": [
{"s":1,"t":0,"y":0},{"s":1,"t":1,"y":4},{"s":1,"t":2,"y":10},{"s":1,"t":3,"y":17},{"s":1,"t":4,"y":26},{"s":1,"t":5,"y":41},
{"s":2,"t":0,"y":0},{"s":2,"t":1,"y":3},{"s":2,"t":2,"y":8},{"s":2,"t":3,"y":14},{"s":2,"t":4,"y":22},
{"s":3,"t":0,"y":0},{"s":3,"t":1,"y":5},{"s":3,"t":2,"y":12},{"s":3,"t":3,"y":9},{"s":3,"t":4,"y":18},
{"s":4,"t":0,"y":0},{"s":4,"t":1,"y":6},{"s":4,"t":2,"y":11},{"s":4,"t":3,"y":20},{"s":4,"t":4,"y":16},
{"s":5,"t":1,"y":2},{"s":5,"t":2,"y":7},{"s":5,"t":3,"y":15},{"s":5,"t":4,"y":24}
]
},
"spacing": 29,
"vconcat": [
{"title": {"text": "(a)\u00a0 No influential transitions"}, "spacing": 10, "hconcat": [
 {"width": 218, "height": 116, "layer": [
  {"data": {"name": "aC"}, "mark": {"type": "line", "color": "#b0b0b0", "strokeWidth": 1.3, "clip": true, "point": {"color": "#b0b0b0", "size": 8}}, "encoding": {"x": {"field": "t", "type": "quantitative", "title": "Time", "scale": {"domain": [-1.4, 31], "nice": false, "zero": false}, "axis": {"values": [0,5,10,15,20,25,30]}}, "y": {"field": "y", "type": "quantitative", "title": "C", "scale": {"domain": [-0.5, 6], "nice": false, "zero": false}, "axis": {"values": [0,1,2,3,4,5,6]}}, "detail": {"field": "s"}}},
  {"data": {"name": "M"}, "mark": {"type": "line", "color": "black", "strokeWidth": 4.5, "clip": true}, "encoding": {"x": {"field": "t", "type": "quantitative", "title": "Time", "scale": {"domain": [-1.4, 31], "nice": false, "zero": false}, "axis": {"values": [0,5,10,15,20,25,30]}}, "y": {"field": "C", "type": "quantitative", "title": "C", "scale": {"domain": [-0.5, 6], "nice": false, "zero": false}, "axis": {"values": [0,1,2,3,4,5,6]}}}}
 ]},
 {"width": 221, "height": 116, "layer": [
  {"data": {"name": "aQ"}, "mark": {"type": "line", "color": "#b0b0b0", "strokeWidth": 1.3, "clip": true, "point": {"color": "#b0b0b0", "size": 8}}, "encoding": {"x": {"field": "t", "type": "quantitative", "title": "Time", "scale": {"domain": [-1.4, 31], "nice": false, "zero": false}, "axis": {"values": [0,5,10,15,20,25,30]}}, "y": {"field": "y", "type": "quantitative", "title": "Qₚ", "scale": {"domain": [-5, 125], "nice": false, "zero": false}, "axis": {"values": [0,20,40,60,80,100,120]}}, "detail": {"field": "s"}}},
  {"data": {"name": "M"}, "mark": {"type": "line", "color": "black", "strokeWidth": 4.5, "clip": true}, "encoding": {"x": {"field": "t", "type": "quantitative", "title": "Time", "scale": {"domain": [-1.4, 31], "nice": false, "zero": false}, "axis": {"values": [0,5,10,15,20,25,30]}}, "y": {"field": "Q", "type": "quantitative", "title": "Qₚ", "scale": {"domain": [-5, 125], "nice": false, "zero": false}, "axis": {"values": [0,20,40,60,80,100,120]}}}}
 ]}
]},
{"title": {"text": "(b)\u00a0 Dead end sequence"}, "spacing": 10, "hconcat": [
 {"width": 218, "height": 116, "layer": [
  {"data": {"name": "bC"}, "mark": {"type": "line", "color": "#b0b0b0", "strokeWidth": 1.3, "clip": true, "point": {"color": "#b0b0b0", "size": 8}}, "encoding": {"x": {"field": "t", "type": "quantitative", "title": "Time", "scale": {"domain": [-1.4, 31], "nice": false, "zero": false}, "axis": {"values": [0,5,10,15,20,25,30]}}, "y": {"field": "y", "type": "quantitative", "title": "C", "scale": {"domain": [-0.5, 6], "nice": false, "zero": false}, "axis": {"values": [0,1,2,3,4,5,6]}}, "detail": {"field": "s"}}},
  {"data": {"name": "M"}, "mark": {"type": "line", "color": "black", "strokeWidth": 4.5, "clip": true}, "encoding": {"x": {"field": "t", "type": "quantitative", "title": "Time", "scale": {"domain": [-1.4, 31], "nice": false, "zero": false}, "axis": {"values": [0,5,10,15,20,25,30]}}, "y": {"field": "C", "type": "quantitative", "title": "C", "scale": {"domain": [-0.5, 6], "nice": false, "zero": false}, "axis": {"values": [0,1,2,3,4,5,6]}}}},
  {"data": {"name": "bCr"}, "mark": {"type": "line", "color": "red", "strokeWidth": 1.5, "clip": true, "point": {"color": "red", "size": 10}}, "encoding": {"x": {"field": "t", "type": "quantitative", "title": "Time", "scale": {"domain": [-1.4, 31], "nice": false, "zero": false}, "axis": {"values": [0,5,10,15,20,25,30]}}, "y": {"field": "y", "type": "quantitative", "title": "C", "scale": {"domain": [-0.5, 6], "nice": false, "zero": false}, "axis": {"values": [0,1,2,3,4,5,6]}}, "detail": {"field": "s"}}}
 ]},
 {"width": 221, "height": 116, "layer": [
  {"data": {"name": "aQ"}, "mark": {"type": "line", "color": "#b0b0b0", "strokeWidth": 1.3, "clip": true, "point": {"color": "#b0b0b0", "size": 8}}, "encoding": {"x": {"field": "t", "type": "quantitative", "title": "Time", "scale": {"domain": [-1.4, 31], "nice": false, "zero": false}, "axis": {"values": [0,5,10,15,20,25,30]}}, "y": {"field": "y", "type": "quantitative", "title": "Qₚ", "scale": {"domain": [-5, 125], "nice": false, "zero": false}, "axis": {"values": [0,20,40,60,80,100,120]}}, "detail": {"field": "s"}}},
  {"data": {"name": "M"}, "mark": {"type": "line", "color": "black", "strokeWidth": 4.5, "clip": true}, "encoding": {"x": {"field": "t", "type": "quantitative", "title": "Time", "scale": {"domain": [-1.4, 31], "nice": false, "zero": false}, "axis": {"values": [0,5,10,15,20,25,30]}}, "y": {"field": "Q", "type": "quantitative", "title": "Qₚ", "scale": {"domain": [-5, 125], "nice": false, "zero": false}, "axis": {"values": [0,20,40,60,80,100,120]}}}},
  {"data": {"name": "bQr"}, "mark": {"type": "line", "color": "red", "strokeWidth": 1.5, "clip": true, "point": {"color": "red", "size": 10}}, "encoding": {"x": {"field": "t", "type": "quantitative", "title": "Time", "scale": {"domain": [-1.4, 31], "nice": false, "zero": false}, "axis": {"values": [0,5,10,15,20,25,30]}}, "y": {"field": "y", "type": "quantitative", "title": "Qₚ", "scale": {"domain": [-5, 125], "nice": false, "zero": false}, "axis": {"values": [0,20,40,60,80,100,120]}}, "detail": {"field": "s"}}}
 ]}
]},
{"title": {"text": "(c)\u00a0 Highlighted reliable transitions"}, "spacing": 10, "hconcat": [
 {"width": 218, "height": 116, "layer": [
  {"data": {"name": "cC"}, "mark": {"type": "line", "color": "#b0b0b0", "strokeWidth": 1.3, "clip": true, "point": {"color": "#b0b0b0", "size": 8}}, "encoding": {"x": {"field": "t", "type": "quantitative", "title": "Time", "scale": {"domain": [-1.4, 31], "nice": false, "zero": false}, "axis": {"values": [0,5,10,15,20,25,30]}}, "y": {"field": "y", "type": "quantitative", "title": "C", "scale": {"domain": [-0.5, 6], "nice": false, "zero": false}, "axis": {"values": [0,1,2,3,4,5,6]}}, "detail": {"field": "s"}}},
  {"data": {"name": "M"}, "mark": {"type": "line", "color": "black", "strokeWidth": 4.5, "clip": true}, "encoding": {"x": {"field": "t", "type": "quantitative", "title": "Time", "scale": {"domain": [-1.4, 31], "nice": false, "zero": false}, "axis": {"values": [0,5,10,15,20,25,30]}}, "y": {"field": "C", "type": "quantitative", "title": "C", "scale": {"domain": [-0.5, 6], "nice": false, "zero": false}, "axis": {"values": [0,1,2,3,4,5,6]}}}},
  {"data": {"name": "cCr"}, "mark": {"type": "line", "color": "red", "strokeWidth": 1.5, "clip": true, "point": {"color": "red", "size": 10}}, "encoding": {"x": {"field": "t", "type": "quantitative", "title": "Time", "scale": {"domain": [-1.4, 31], "nice": false, "zero": false}, "axis": {"values": [0,5,10,15,20,25,30]}}, "y": {"field": "y", "type": "quantitative", "title": "C", "scale": {"domain": [-0.5, 6], "nice": false, "zero": false}, "axis": {"values": [0,1,2,3,4,5,6]}}, "detail": {"field": "s"}}}
 ]},
 {"width": 221, "height": 116, "layer": [
  {"data": {"name": "cQ"}, "mark": {"type": "line", "color": "#b0b0b0", "strokeWidth": 1.3, "clip": true, "point": {"color": "#b0b0b0", "size": 8}}, "encoding": {"x": {"field": "t", "type": "quantitative", "title": "Time", "scale": {"domain": [-1.4, 31], "nice": false, "zero": false}, "axis": {"values": [0,5,10,15,20,25,30]}}, "y": {"field": "y", "type": "quantitative", "title": "Qₚ", "scale": {"domain": [-5, 125], "nice": false, "zero": false}, "axis": {"values": [0,20,40,60,80,100,120]}}, "detail": {"field": "s"}}},
  {"data": {"name": "M"}, "mark": {"type": "line", "color": "black", "strokeWidth": 4.5, "clip": true}, "encoding": {"x": {"field": "t", "type": "quantitative", "title": "Time", "scale": {"domain": [-1.4, 31], "nice": false, "zero": false}, "axis": {"values": [0,5,10,15,20,25,30]}}, "y": {"field": "Q", "type": "quantitative", "title": "Qₚ", "scale": {"domain": [-5, 125], "nice": false, "zero": false}, "axis": {"values": [0,20,40,60,80,100,120]}}}},
  {"data": {"name": "cQr"}, "mark": {"type": "line", "color": "red", "strokeWidth": 1.5, "clip": true, "point": {"color": "red", "size": 10}}, "encoding": {"x": {"field": "t", "type": "quantitative", "title": "Time", "scale": {"domain": [-1.4, 31], "nice": false, "zero": false}, "axis": {"values": [0,5,10,15,20,25,30]}}, "y": {"field": "y", "type": "quantitative", "title": "Qₚ", "scale": {"domain": [-5, 125], "nice": false, "zero": false}, "axis": {"values": [0,20,40,60,80,100,120]}}, "detail": {"field": "s"}}}
 ]}
]},
{"title": {"text": "(d)\u00a0 Highlighted problematic transitions"}, "spacing": 10, "hconcat": [
 {"width": 218, "height": 116, "layer": [
  {"data": {"name": "dC"}, "mark": {"type": "line", "color": "#b0b0b0", "strokeWidth": 1.3, "clip": true, "point": {"color": "#b0b0b0", "size": 8}}, "encoding": {"x": {"field": "t", "type": "quantitative", "title": "Time", "scale": {"domain": [-1.4, 31], "nice": false, "zero": false}, "axis": {"values": [0,5,10,15,20,25,30]}}, "y": {"field": "y", "type": "quantitative", "title": "C", "scale": {"domain": [-0.5, 6], "nice": false, "zero": false}, "axis": {"values": [0,1,2,3,4,5,6]}}, "detail": {"field": "s"}}},
  {"data": {"name": "M"}, "mark": {"type": "line", "color": "black", "strokeWidth": 4.5, "clip": true}, "encoding": {"x": {"field": "t", "type": "quantitative", "title": "Time", "scale": {"domain": [-1.4, 31], "nice": false, "zero": false}, "axis": {"values": [0,5,10,15,20,25,30]}}, "y": {"field": "C", "type": "quantitative", "title": "C", "scale": {"domain": [-0.5, 6], "nice": false, "zero": false}, "axis": {"values": [0,1,2,3,4,5,6]}}}},
  {"data": {"name": "dCr"}, "mark": {"type": "line", "color": "red", "strokeWidth": 1.5, "clip": true, "point": {"color": "red", "size": 10}}, "encoding": {"x": {"field": "t", "type": "quantitative", "title": "Time", "scale": {"domain": [-1.4, 31], "nice": false, "zero": false}, "axis": {"values": [0,5,10,15,20,25,30]}}, "y": {"field": "y", "type": "quantitative", "title": "C", "scale": {"domain": [-0.5, 6], "nice": false, "zero": false}, "axis": {"values": [0,1,2,3,4,5,6]}}, "detail": {"field": "s"}}}
 ]},
 {"width": 221, "height": 116, "layer": [
  {"data": {"name": "dQ"}, "mark": {"type": "line", "color": "#b0b0b0", "strokeWidth": 1.3, "clip": true, "point": {"color": "#b0b0b0", "size": 8}}, "encoding": {"x": {"field": "t", "type": "quantitative", "title": "Time", "scale": {"domain": [-1.4, 31], "nice": false, "zero": false}, "axis": {"values": [0,5,10,15,20,25,30]}}, "y": {"field": "y", "type": "quantitative", "title": "Qₚ", "scale": {"domain": [-5, 125], "nice": false, "zero": false}, "axis": {"values": [0,20,40,60,80,100,120]}}, "detail": {"field": "s"}}},
  {"data": {"name": "M"}, "mark": {"type": "line", "color": "black", "strokeWidth": 4.5, "clip": true}, "encoding": {"x": {"field": "t", "type": "quantitative", "title": "Time", "scale": {"domain": [-1.4, 31], "nice": false, "zero": false}, "axis": {"values": [0,5,10,15,20,25,30]}}, "y": {"field": "Q", "type": "quantitative", "title": "Qₚ", "scale": {"domain": [-5, 125], "nice": false, "zero": false}, "axis": {"values": [0,20,40,60,80,100,120]}}}},
  {"data": {"name": "dQr"}, "mark": {"type": "line", "color": "red", "strokeWidth": 1.5, "clip": true, "point": {"color": "red", "size": 10}}, "encoding": {"x": {"field": "t", "type": "quantitative", "title": "Time", "scale": {"domain": [-1.4, 31], "nice": false, "zero": false}, "axis": {"values": [0,5,10,15,20,25,30]}}, "y": {"field": "y", "type": "quantitative", "title": "Qₚ", "scale": {"domain": [-5, 125], "nice": false, "zero": false}, "axis": {"values": [0,20,40,60,80,100,120]}}, "detail": {"field": "s"}}}
 ]}
]}
],
"config": {
 "view": {"stroke": "#555", "strokeWidth": 1},
 "axis": {"grid": false, "domain": false, "tickColor": "#222", "tickSize": 3, "labelFont": "DejaVu Sans", "labelFontSize": 7, "labelColor": "#222", "labelPadding": 2, "labelOverlap": false, "titleFont": "DejaVu Sans", "titleFontSize": 10, "titleFontWeight": "normal", "titleColor": "#111"},
 "axisX": {"titlePadding": 3},
 "axisY": {"titlePadding": 4, "titleFontStyle": "italic"},
 "title": {"orient": "bottom", "anchor": "middle", "font": "Liberation Serif", "fontSize": 23, "fontWeight": "normal", "color": "#111", "offset": 20}
}
}
